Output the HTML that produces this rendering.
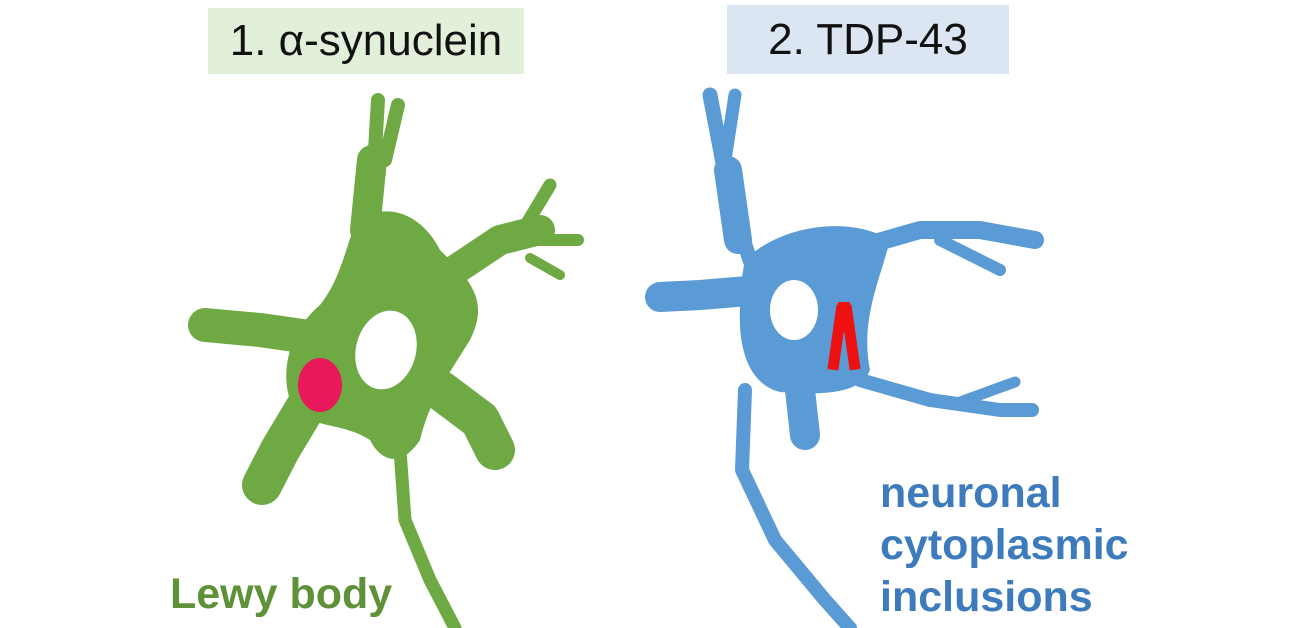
<!DOCTYPE html>
<html><head><meta charset="utf-8"><style>
html,body{margin:0;padding:0;background:#fff;width:1300px;height:628px;overflow:hidden;font-family:"Liberation Sans",sans-serif}
.box{position:absolute;font-size:44px;color:#111;display:flex;align-items:center;justify-content:center}
.t{position:absolute;font-weight:bold;font-size:43px;line-height:52px}
</style></head><body>
<div class="box" style="left:208px;top:8px;width:316px;height:66px;background:#e2efda">1. α-synuclein</div>
<div class="box" style="left:727px;top:5px;width:282px;height:69px;background:#dce6f2">2. TDP-43</div>
<svg width="1300" height="628" style="position:absolute;left:0;top:0">
<g stroke="#6ea944" fill="none" stroke-linecap="round" stroke-linejoin="round">
 <path d="M372 240 L375 150 L378 100" stroke-width="14"/>
 <path d="M385 160 L398 105" stroke-width="14"/>
 <path d="M365 230 L372 160" stroke-width="30"/>
 <path d="M440 280 L500 240 L540 230" stroke-width="30"/>
 <path d="M520 235 L550 185" stroke-width="13"/>
 <path d="M530 240 L578 240" stroke-width="12"/>
 <path d="M530 258 L560 275" stroke-width="10"/>
 <path d="M330 340 L260 330 L205 325" stroke-width="34"/>
 <path d="M310 400 L280 450 L262 485" stroke-width="40"/>
 <path d="M440 390 L480 420 L495 450" stroke-width="40"/>
 <path d="M400 450 L405 520 L430 580 L455 628" stroke-width="13"/>
</g>
<path d="M355 225 C380 200 420 210 440 250 C470 280 490 300 470 340 C445 380 430 400 420 440 C400 470 380 460 370 440 C340 420 300 430 290 400 C280 370 290 330 320 305 C340 280 345 250 355 225 Z" fill="#6ea944"/>
<ellipse cx="386" cy="350" rx="30" ry="40" fill="#fff" transform="rotate(15 386 350)"/>
<ellipse cx="320" cy="385" rx="22" ry="27" fill="#e8185a"/>

<g stroke="#5b9bd5" fill="none" stroke-linecap="round" stroke-linejoin="round">
 <path d="M750 260 L730 200 L710 95" stroke-width="15"/>
 <path d="M725 160 L735 95" stroke-width="13"/>
 <path d="M738 240 L728 170" stroke-width="28"/>
 <path d="M760 290 L700 295 L660 297" stroke-width="30"/>
 <path d="M850 250 L920 230 L980 230 L1035 240" stroke-width="18"/>
 <path d="M940 240 L1000 270" stroke-width="12"/>
 <path d="M860 380 L930 400 L1000 410 L1032 410" stroke-width="14"/>
 <path d="M960 402 L1015 382" stroke-width="11"/>
 <path d="M800 390 L805 435" stroke-width="30"/>
 <path d="M745 390 L742 470 L775 540 L825 600 L850 628" stroke-width="14"/>
</g>
<path d="M745 260 C780 225 850 215 890 240 C880 280 860 320 870 370 C860 395 820 395 780 392 C750 385 738 350 740 310 C740 290 742 275 745 260 Z" fill="#5b9bd5"/>
<ellipse cx="794" cy="310" rx="24" ry="30" fill="#fff"/>
<g fill="#ee1111">
 <rect x="832" y="305" width="11" height="65" transform="rotate(8 837 337)"/>
 <rect x="845" y="305" width="11" height="65" transform="rotate(-8 850 337)"/>
 <rect x="838" y="302" width="12" height="30"/>
</g>
</svg>
<div class="t" style="left:170px;top:568px;color:#5e9138">Lewy body</div>
<div class="t" style="left:880px;top:467px;color:#3d7bbd">neuronal<br>cytoplasmic<br>inclusions</div>
</body></html>
